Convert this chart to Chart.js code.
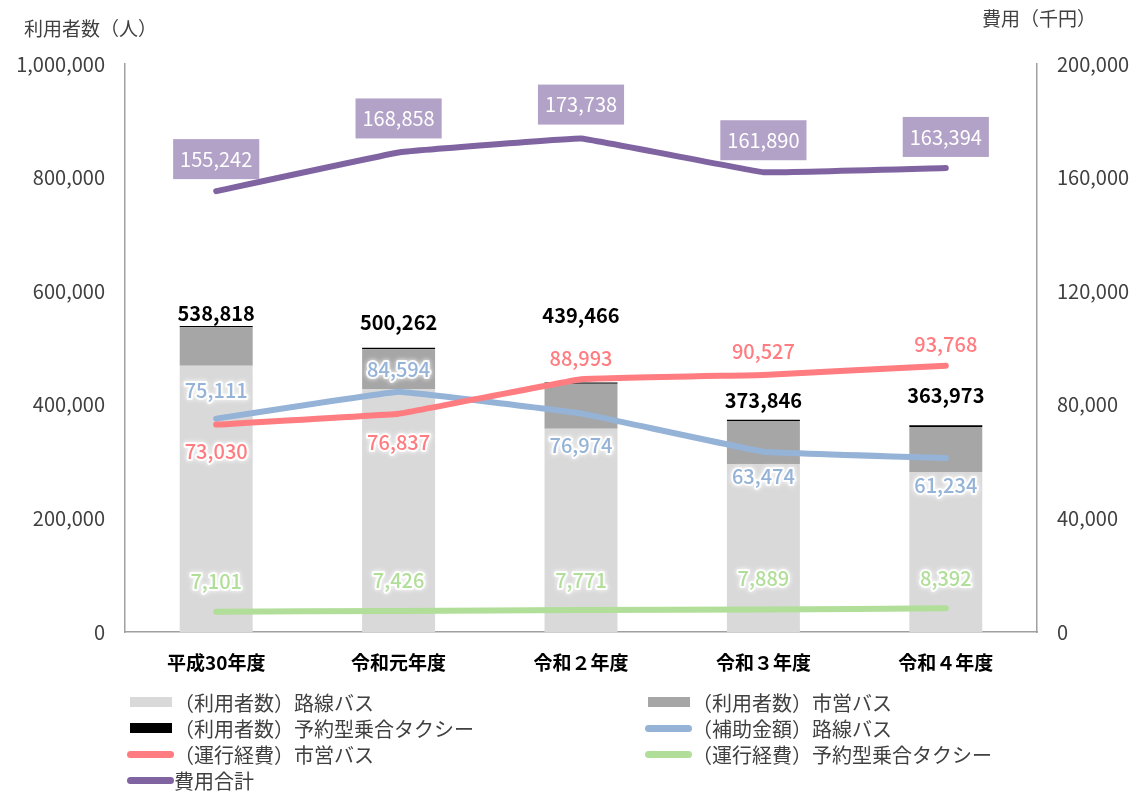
<!DOCTYPE html>
<html lang="ja">
<head>
<meta charset="utf-8">
<title>利用者数と費用の推移</title>
<script src="https://cdn.jsdelivr.net/npm/chart.js@4.4.1/dist/chart.umd.min.js"></script>
<style>
  html, body { margin: 0; padding: 0; background: #fff; }
  #wrap { position: relative; width: 1134px; height: 792px; }
  #legend { position: absolute; left: 0; top: 0; width: 1134px; height: 792px; pointer-events: none; }
  .item { position: absolute; height: 26px; display: flex; align-items: center;
          font: 20px "Noto Sans CJK JP", sans-serif; color: #404040; white-space: nowrap; }
  .swatch { width: 47px; display: flex; justify-content: center; margin-right: 0; }
  .swatch.bar span { display: block; width: 42px; height: 10px; }
  .swatch.line span { display: block; width: 47px; height: 7px; border-radius: 4px; }
</style>
</head>
<body>
<div id="wrap">
  <canvas id="grafico" width="1134" height="792"></canvas>
  <div id="legend"></div>
</div>
<script>
const categorias = ['平成30年度', '令和元年度', '令和２年度', '令和３年度', '令和４年度'];

// 利用者数（人）
const usuariosRosen = [468800, 427800, 357900, 295800, 281700];
const usuariosShiei = [67618, 70162, 79266, 75546, 79373];
const usuariosTaxi = [2400, 2300, 2300, 2500, 2900];

// 費用（千円）
const hojoRosen = [75111, 84594, 76974, 63474, 61234];
const keihiShiei = [73030, 76837, 88993, 90527, 93768];
const keihiTaxi = [7101, 7426, 7771, 7889, 8392];
const hiyoGokei = [155242, 168858, 173738, 161890, 163394];

const ticksUsuarios = [0, 200000, 400000, 600000, 800000, 1000000];
const ticksHiyo = [0, 40000, 80000, 120000, 160000, 200000];

// 合計ラベル（棒の上）
const totales = categorias.map((_, i) => usuariosRosen[i] + usuariosShiei[i] + usuariosTaxi[i]);

// ラベルの縦位置（点からのpx）
const offTotal = [-13, -25, -67, -19, -30];
const offHojo = [-28, -22, 32, 25, 27];
const offShiei = [27, 29, -21, -23, -21];
const offTaxi = [-30, -31, -30, -31, -30];
const offGokei = [-32, -34, -34, -32, -31];

const FONT = '"Noto Sans CJK JP", sans-serif';
const fmt = v => v.toLocaleString('en-US');

const valueLabels = {
  id: 'valueLabels',
  afterDatasetsDraw(chart) {
    const ctx = chart.ctx;
    chart.data.datasets.forEach((ds, i) => {
      if (!ds.labelOffsets) return;
      const meta = chart.getDatasetMeta(i);
      meta.data.forEach((el, j) => {
        const value = ds.labelValues ? ds.labelValues[j] : ds.data[j];
        const text = fmt(value);
        const x = el.x;
        const y = el.y + ds.labelOffsets[j];
        ctx.save();
        ctx.textAlign = 'center';
        ctx.textBaseline = 'middle';
        if (ds.labelStyle === 'total') {
          ctx.font = 'bold 20px ' + FONT;
          ctx.fillStyle = '#000';
          ctx.fillText(text, x, y);
        } else if (ds.labelStyle === 'box') {
          ctx.font = '20px ' + FONT;
          const w = ctx.measureText(text).width + 14;
          ctx.fillStyle = '#B3A2C7';
          ctx.fillRect(x - w / 2, y - 20, w, 40);
          ctx.fillStyle = '#fff';
          ctx.fillText(text, x, y);
        } else {
          ctx.font = '500 20px ' + FONT;
          ctx.lineJoin = 'round';
          ctx.shadowColor = 'rgba(255,255,255,1)';
          ctx.shadowBlur = 5;
          ctx.strokeStyle = 'rgba(255,255,255,0.9)';
          ctx.lineWidth = 4;
          ctx.strokeText(text, x, y);
          ctx.shadowBlur = 0;
          ctx.fillStyle = ds.borderColor;
          ctx.fillText(text, x, y);
        }
        ctx.restore();
      });
    });
  }
};

const axisTitles = {
  id: 'axisTitles',
  afterDraw(chart) {
    const ctx = chart.ctx;
    ctx.save();
    ctx.font = '19px ' + FONT;
    ctx.fillStyle = '#404040';
    ctx.textBaseline = 'middle';
    ctx.textAlign = 'left';
    ctx.fillText('利用者数（人）', 24, 29);
    ctx.fillText('費用（千円）', 982, 19);
    ctx.restore();
  }
};

function lineDataset(label, data, color, order, offsets, style) {
  return {
    type: 'line', label, data, yAxisID: 'y1', order,
    borderColor: color, backgroundColor: color,
    borderWidth: 6, borderCapStyle: 'round', borderJoinStyle: 'round',
    pointRadius: 0, tension: 0.05, fill: false,
    labelOffsets: offsets, labelStyle: style
  };
}

const ctx = document.getElementById('grafico').getContext('2d');
const chart = new Chart(ctx, {
  type: 'bar',
  data: {
    labels: categorias,
    datasets: [
      { label: '（利用者数）路線バス', data: usuariosRosen, backgroundColor: '#D9D9D9', stack: 's', order: 10 },
      { label: '（利用者数）市営バス', data: usuariosShiei, backgroundColor: '#A6A6A6', stack: 's', order: 10 },
      { label: '（利用者数）予約型乗合タクシー', data: usuariosTaxi, backgroundColor: '#000000', stack: 's', order: 10,
        labelOffsets: offTotal, labelValues: totales, labelStyle: 'total' },
      lineDataset('（補助金額）路線バス', hojoRosen, '#95B3D7', 4, offHojo, 'halo'),
      lineDataset('（運行経費）市営バス', keihiShiei, '#FF7C80', 3, offShiei, 'halo'),
      lineDataset('（運行経費）予約型乗合タクシー', keihiTaxi, '#B1DE99', 2, offTaxi, 'halo'),
      lineDataset('費用合計', hiyoGokei, '#8064A2', 1, offGokei, 'box')
    ]
  },
  options: {
    responsive: false,
    animation: false,
    devicePixelRatio: 1,
    layout: { padding: { top: 64, left: 0, right: 0, bottom: 112 } },
    datasets: { bar: { barPercentage: 0.8, categoryPercentage: 0.5, borderWidth: 0 } },
    plugins: { legend: { display: false }, tooltip: { enabled: false } },
    scales: {
      x: {
        grid: { display: false, drawTicks: false },
        border: { display: true, color: '#A0A0A0', width: 1.5 },
        ticks: { color: '#000', padding: 19, font: { family: FONT, size: 19, weight: 'bold' } },
        afterFit: s => { s.height = 48; }
      },
      y: {
        position: 'left', stacked: true, min: 0, max: 1000000,
        grid: { display: false, drawTicks: false },
        border: { display: true, color: '#A0A0A0', width: 1.5 },
        ticks: { color: '#404040', padding: 20, font: { family: FONT, size: 20 }, callback: v => fmt(v) },
        afterBuildTicks: s => { s.ticks = ticksUsuarios.map(v => ({ value: v })); },
        afterFit: s => { s.width = 125; }
      },
      y1: {
        position: 'right', min: 0, max: 200000,
        grid: { display: false, drawTicks: false },
        border: { display: true, color: '#A0A0A0', width: 1.5 },
        ticks: { color: '#404040', padding: 20, font: { family: FONT, size: 20 }, callback: v => fmt(v) },
        afterBuildTicks: s => { s.ticks = ticksHiyo.map(v => ({ value: v })); },
        afterFit: s => { s.width = 97; }
      }
    }
  },
  plugins: [valueLabels, axisTitles]
});

// 凡例（2列）
function buildLegend() {
  const box = document.getElementById('legend');
  const colX = [127, 645];
  const rowY = [702, 728, 754, 780];
  chart.data.datasets.forEach((ds, i) => {
    const item = document.createElement('div');
    item.className = 'item';
    item.style.left = colX[i % 2] + 'px';
    item.style.top = (rowY[Math.floor(i / 2)] - 13) + 'px';
    const isLine = ds.type === 'line';
    const color = isLine ? ds.borderColor : ds.backgroundColor;
    item.innerHTML = `<div class="swatch ${isLine ? 'line' : 'bar'}"><span style="background:${color}"></span></div><span>${ds.label}</span>`;
    box.appendChild(item);
  });
}
buildLegend();
</script>
</body>
</html>
